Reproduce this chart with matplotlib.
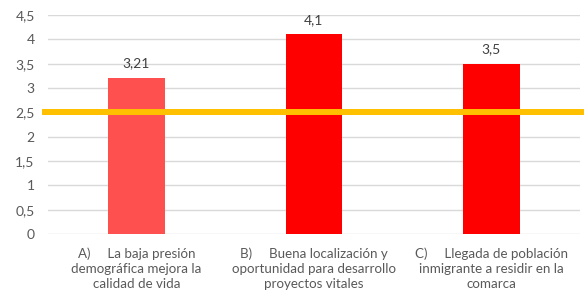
import matplotlib
matplotlib.use("Agg")
import matplotlib.pyplot as plt

categories = ["A)     La baja presión\ndemográfica mejora la\ncalidad de vida",
              "B)     Buena localización y\noportunidad para desarrollo\nproyectos vitales",
              "C)     Llegada de población\ninmigrante a residir en la\ncomarca"]
values = [3.21, 4.1, 3.5]
value_labels = ["3,21", "4,1", "3,5"]
bar_colors = ["#FF5050", "#FF0000", "#FF0000"]
reference = 2.5
yticks = [0, 0.5, 1, 1.5, 2, 2.5, 3, 3.5, 4, 4.5]
ytick_labels = ["0", "0,5", "1", "1,5", "2", "2,5", "3", "3,5", "4", "4,5"]

plt.rcParams['font.family'] = ['Lato', 'DejaVu Sans']
fig = plt.figure(figsize=(5.84, 3.0), dpi=100)
ax = fig.add_axes([0.082, 0.22, 0.911, 0.73])

x = list(range(len(values)))
ax.bar(x, values, width=0.32, color=bar_colors, zorder=3)
for xi, v, lab in zip(x, values, value_labels):
    ax.annotate(lab, (xi, v), xytext=(0, 6), textcoords="offset points",
                ha="center", va="bottom", fontsize=10, color="#404040")

ax.axhline(reference, color="#FFC000", lw=4.3, zorder=4, xmin=-0.006, xmax=1.005, clip_on=False)

ax.set_xlim(-0.5, 2.5)
ax.set_ylim(0, 4.5)
ax.set_yticks(yticks)
ax.set_yticklabels(ytick_labels)
ax.set_xticks(x)
ax.set_xticklabels(categories, linespacing=1.32)
ax.tick_params(axis="y", length=0, labelsize=10, labelcolor="#595959", pad=9.5)
ax.tick_params(axis="x", length=0, labelsize=9.6, labelcolor="#595959", pad=9.5)
ax.grid(axis="y", color="#D9D9D9", lw=1, zorder=0)
for s in ax.spines.values():
    s.set_visible(False)

fig.savefig("out.png", dpi=100)
